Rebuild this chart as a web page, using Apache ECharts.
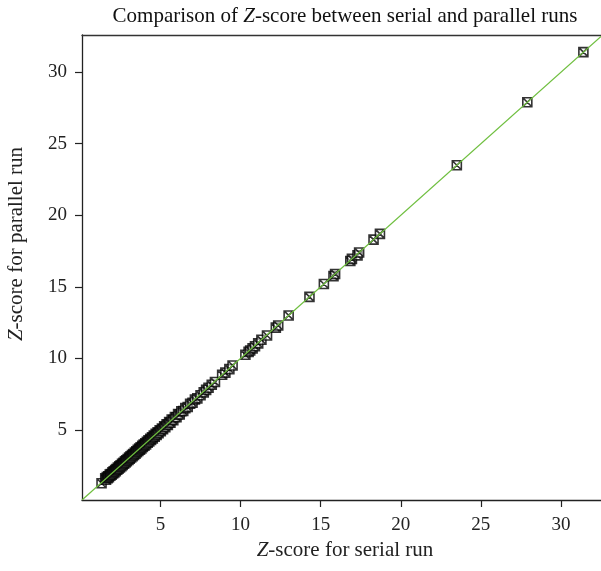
<!DOCTYPE html>
<html><head><meta charset="utf-8">
<script src="https://cdn.jsdelivr.net/npm/echarts@6/dist/echarts.min.js"></script>
<style>html,body{margin:0;padding:0;background:#fff}#c{width:601px;height:571px}</style>
</head><body><div id="c"></div>
<script>
const serial = [1.32,1.55,1.6,1.65,1.7,1.74,1.78,1.83,1.87,1.9,1.95,2.0,2.04,2.08,2.12,2.17,2.21,2.25,2.3,2.34,2.38,2.43,2.47,2.51,2.56,2.6,2.64,2.69,2.73,2.78,2.82,2.86,2.9,2.95,3.0,3.04,3.08,3.13,3.17,3.22,3.26,3.3,3.35,3.4,3.44,3.49,3.53,3.58,3.62,3.67,3.72,3.76,3.81,3.86,3.9,3.95,4.0,4.05,4.1,4.15,4.2,4.25,4.3,4.36,4.41,4.47,4.52,4.58,4.64,4.7,4.76,4.82,4.88,4.95,5.02,5.09,5.16,5.23,5.3,5.38,5.46,5.54,5.62,5.7,5.8,5.9,6.0,6.1,6.2,6.3,6.42,6.55,6.7,6.85,7.0,7.15,7.3,7.5,7.7,7.85,8.0,8.2,8.4,8.85,9.05,9.3,9.5,10.3,10.5,10.6,10.75,10.9,11.1,11.3,11.65,12.2,12.35,13.0,14.3,15.2,15.8,15.9,16.85,16.95,17.3,17.4,18.3,18.7,23.5,27.9,31.4];
const parallel = [1.27,1.62,1.52,1.7,1.62,1.76,1.7,1.88,1.79,1.92,1.86,2.04,1.95,2.1,2.03,2.2,2.12,2.27,2.21,2.37,2.28,2.45,2.38,2.53,2.46,2.63,2.55,2.7,2.64,2.8,2.72,2.88,2.81,2.97,2.9,3.06,2.99,3.15,3.07,3.24,3.16,3.32,3.25,3.42,3.34,3.51,3.44,3.6,3.52,3.69,3.62,3.78,3.71,3.88,3.8,3.97,3.9,4.07,3.99,4.17,4.1,4.27,4.19,4.38,4.3,4.49,4.41,4.6,4.53,4.72,4.65,4.84,4.77,4.97,4.9,5.1,5.04,5.25,5.18,5.39,5.35,5.55,5.5,5.72,5.68,5.9,5.88,6.1,6.08,6.3,6.32,6.52,6.6,6.83,6.9,7.12,7.2,7.42,7.62,7.8,7.95,8.15,8.35,8.85,9.0,9.25,9.5,10.25,10.45,10.55,10.7,10.85,11.05,11.3,11.6,12.15,12.3,13.0,14.3,15.2,15.75,15.9,16.8,16.95,17.2,17.4,18.3,18.7,23.5,27.9,31.4];
const fitLine = [[0.1,0.1],[32.5,32.5]];
const xTicks = [5,10,15,20,25,30];
const yTicks = [5,10,15,20,25,30];

const pts = serial.map((v,i)=>[v,parallel[i]]);
const font = '"Liberation Serif", "DejaVu Serif", serif';
const chart = echarts.init(document.getElementById('c'));
chart.setOption({
  animation:false,
  backgroundColor:'#fff',
  textStyle:{fontFamily:font},
  title:{
    text:'Comparison of {i|Z}-score between serial and parallel runs',
    left:340, top:1, textAlign:'center',
    textStyle:{fontFamily:font,fontSize:21,fontWeight:'normal',color:'#111',
      rich:{i:{fontFamily:font,fontSize:21,fontStyle:'italic',color:'#111'}}}
  },
  graphic:[{
    type:'text', x:16, y:244, rotation:Math.PI/2,
    style:{text:'{i|Z}-score for parallel run', align:'center', verticalAlign:'middle',
      font:'21px "Liberation Serif", serif', fill:'#222',
      rich:{i:{fontFamily:font,fontSize:21,fontStyle:'italic',fill:'#222'}}}
  }],
  grid:{left:82,top:35,right:0,bottom:71},
  xAxis:[{
    type:'value',min:0.1,max:32.5,
    name:'{i|Z}-score for serial run',nameLocation:'middle',nameGap:38,
    nameTextStyle:{fontFamily:font,fontSize:21,color:'#222',padding:[0,0,0,7],rich:{i:{fontFamily:font,fontSize:21,fontStyle:'italic',color:'#222'}}},
    axisLine:{show:true,lineStyle:{color:'#222',width:1.3}},
    axisTick:{show:true,length:7,inside:false,customValues:xTicks,lineStyle:{color:'#222',width:1.2}},
    axisLabel:{customValues:xTicks,fontFamily:font,fontSize:19,color:'#222',margin:16},
    splitLine:{show:false}
  },{
    type:'value',position:'top',min:0.1,max:32.5,
    axisLine:{show:true,lineStyle:{color:'#333',width:1.3}},
    axisTick:{show:false},axisLabel:{show:false},splitLine:{show:false}
  }],
  yAxis:{
    type:'value',min:0.1,max:32.6,
    axisLine:{show:true,lineStyle:{color:'#222',width:1.3}},
    axisTick:{show:true,length:7,customValues:yTicks,lineStyle:{color:'#222',width:1.2}},
    axisLabel:{customValues:yTicks,fontFamily:font,fontSize:19,color:'#222',margin:15},
    splitLine:{show:false}
  },
  series:[{
    type:'scatter',data:pts,
    symbol:'path://M0,0L10,0L10,10L0,10ZM0,0L10,10M10,0L0,10',
    symbolSize:9,
    itemStyle:{color:'rgba(255,255,255,0.6)',borderColor:'#000',borderWidth:1.6},
    z:2
  },{
    type:'line',data:fitLine,symbol:'none',
    lineStyle:{color:'#6fbf3f',width:1.2},z:3,silent:true
  }]
});
</script></body></html>
